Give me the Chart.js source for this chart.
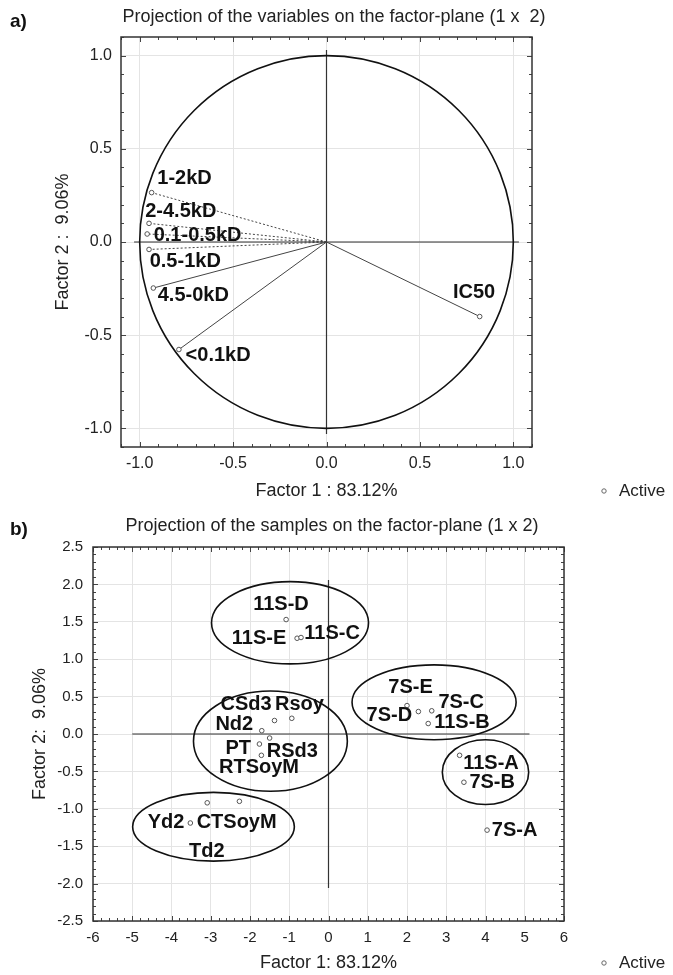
<!DOCTYPE html>
<html>
<head>
<meta charset="utf-8">
<script src="https://cdn.jsdelivr.net/npm/chart.js@4.4.1/dist/chart.umd.min.js"></script>
<style>
  body { margin: 0; background: #fff; width: 673px; height: 975px; overflow: hidden; position: relative; }
  canvas { position: absolute; left: 0; }
  #chartA { top: 0; }
  #chartB { top: 510px; }
</style>
</head>
<body>
<canvas id="chartA" width="673" height="510"></canvas>
<canvas id="chartB" width="673" height="465"></canvas>
<script>
// a) variables (loadings on factor 1 / factor 2)
const varNames = ['1-2kD', '2-4.5kD', '0.1-0.5kD', '0.5-1kD', '4.5-0kD', '<0.1kD', 'IC50'];
const varF1 = [-0.936, -0.95, -0.96, -0.95, -0.927, -0.79, 0.82];
const varF2 = [0.265, 0.10, 0.043, -0.04, -0.247, -0.577, -0.40];
// where each name sits (factor units)
const varLabX = [-0.76, -0.78, -0.69, -0.756, -0.713, -0.58, 0.79];
const varLabY = [0.34, 0.165, 0.036, -0.103, -0.286, -0.607, -0.27];
const varDotted = [true, true, true, true, false, false, false];

// b) samples (scores)
const sampleNames = ['11S-D', '11S-E', '11S-C', '7S-E', '7S-D', '7S-C', '11S-B', '11S-A', '7S-B', '7S-A',
  'CSd3', 'Rsoy', 'Nd2', 'RSd3', 'PT', 'RTSoyM', 'Yd2', 'CTSoyM', 'Td2'];
const sampleF1 = [-1.08, -0.80, -0.70, 2.0, 2.29, 2.63, 2.54, 3.34, 3.45, 4.04,
  -1.376, -0.935, -1.70, -1.50, -1.76, -1.71, -3.52, -2.27, -3.09];
const sampleF2 = [1.53, 1.28, 1.29, 0.38, 0.30, 0.31, 0.14, -0.285, -0.645, -1.285,
  0.18, 0.21, 0.044, -0.054, -0.134, -0.285, -1.19, -0.90, -0.92];
const sampleLabX = [-1.21, -1.77, 0.09, 2.09, 1.55, 3.38, 3.40, 4.14, 4.17, 4.74,
  -2.10, -0.74, -2.40, -0.92, -2.30, -1.77, -4.14, -2.34, -3.10];
const sampleLabY = [1.73, 1.28, 1.35, 0.62, 0.245, 0.42, 0.155, -0.40, -0.645, -1.285,
  0.39, 0.39, 0.133, -0.23, -0.196, -0.453, -1.187, -1.187, -1.565];

// hand-drawn groups (centre and half axes, factor units)
const groupCx = [-0.98, 2.69, 4.0, -1.48, -2.93];
const groupCy = [1.487, 0.424, -0.51, -0.096, -1.24];
const groupRx = [2.0, 2.09, 1.10, 1.96, 2.06];
const groupRy = [0.55, 0.5, 0.433, 0.67, 0.46];

const FONT = '"Liberation Sans", Arial, sans-serif';

function tickMarks(ctx, scale, step, major, isX) {
  const a = scale.chart.chartArea;
  const n0 = Math.ceil(scale.min / step - 1e-6), n1 = Math.floor(scale.max / step + 1e-6);
  for (let i = n0; i <= n1; i++) {
    const v = i * step;
    const isMajor = Math.abs(v / major - Math.round(v / major)) < 1e-6;
    const len = isMajor ? 5 : 3;
    const p = Math.round(scale.getPixelForValue(v)) + 0.5;
    ctx.beginPath();
    if (isX) {
      ctx.moveTo(p, a.bottom); ctx.lineTo(p, a.bottom - len);
      ctx.moveTo(p, a.top); ctx.lineTo(p, a.top + len);
    } else {
      ctx.moveTo(a.left, p); ctx.lineTo(a.left + len, p);
      ctx.moveTo(a.right, p); ctx.lineTo(a.right - len, p);
    }
    ctx.stroke();
  }
}

function makePlugin(cfg) {
  return {
    id: 'pca' + cfg.tag,
    beforeDatasetsDraw(chart) {
      const { ctx, scales: { x, y } } = chart;
      ctx.save();
      ctx.strokeStyle = '#333';
      ctx.lineWidth = 1.2;
      // axis cross through the origin
      ctx.beginPath();
      ctx.moveTo(x.getPixelForValue(0), y.getPixelForValue(cfg.vLine[0]));
      ctx.lineTo(x.getPixelForValue(0), y.getPixelForValue(cfg.vLine[1]));
      ctx.moveTo(x.getPixelForValue(cfg.hLine[0]), y.getPixelForValue(0));
      ctx.lineTo(x.getPixelForValue(cfg.hLine[1]), y.getPixelForValue(0));
      ctx.stroke();
      // circle / group ellipses
      ctx.strokeStyle = '#111';
      ctx.lineWidth = 1.6;
      cfg.ellipses.forEach(e => {
        const cx = x.getPixelForValue(e[0]), cy = y.getPixelForValue(e[1]);
        const rx = Math.abs(x.getPixelForValue(e[0] + e[2]) - cx);
        const ry = Math.abs(y.getPixelForValue(e[1] + e[3]) - cy);
        ctx.beginPath();
        ctx.ellipse(cx, cy, rx, ry, 0, 0, Math.PI * 2);
        ctx.stroke();
      });
      ctx.restore();
    },
    afterDatasetsDraw(chart) {
      const { ctx, scales: { x, y } } = chart;
      ctx.save();
      ctx.font = 'bold 20px ' + FONT;
      ctx.fillStyle = '#111';
      ctx.textAlign = 'center';
      ctx.textBaseline = 'middle';
      cfg.names.forEach((n, i) => {
        ctx.fillText(n, x.getPixelForValue(cfg.labX[i]), y.getPixelForValue(cfg.labY[i]));
      });
      ctx.restore();
    },
    afterDraw(chart) {
      const { ctx, chartArea: a, scales: { x, y } } = chart;
      ctx.save();
      ctx.strokeStyle = '#444';
      ctx.lineWidth = 1;
      tickMarks(ctx, x, cfg.xMinor, cfg.xMajor, true);
      tickMarks(ctx, y, cfg.yMinor, cfg.yMajor, false);
      ctx.strokeStyle = '#333';
      ctx.lineWidth = 1.5;
      ctx.strokeRect(a.left, a.top, a.right - a.left, a.bottom - a.top);
      // title, panel letter, legend
      ctx.fillStyle = '#222';
      ctx.textBaseline = 'middle';
      ctx.textAlign = 'center';
      ctx.font = '18px ' + FONT;
      ctx.fillText(cfg.title, cfg.titleX, cfg.titleY);
      ctx.textAlign = 'left';
      ctx.font = 'bold 19px ' + FONT;
      ctx.fillStyle = '#111';
      ctx.fillText(cfg.tag + ')', 10, cfg.letterY);
      ctx.font = '17px ' + FONT;
      ctx.fillStyle = '#222';
      ctx.fillText('Active', 619, cfg.legendY);
      ctx.beginPath();
      ctx.strokeStyle = '#666';
      ctx.lineWidth = 1;
      ctx.arc(604, cfg.legendY, 2.2, 0, Math.PI * 2);
      ctx.stroke();
      ctx.restore();
    }
  };
}

function axis(min, max, step, fontSize, pad, title, titlePad, fitSize, isX) {
  return {
    type: 'linear',
    min: min, max: max,
    afterFit: s => { if (isX) s.height = fitSize; else s.width = fitSize; },
    grid: { color: '#e4e4e4', lineWidth: 1, drawTicks: false },
    border: { display: false },
    ticks: {
      stepSize: step, includeBounds: false, autoSkip: false, maxRotation: 0,
      padding: pad, color: '#222',
      font: { family: FONT, size: fontSize },
      callback: v => (step < 1 ? v.toFixed(1) : String(v))
    },
    title: {
      display: true, text: title, color: '#222',
      font: { family: FONT, size: 18 },
      padding: titlePad
    }
  };
}

// ---- chart a ----
const vectorSets = varNames.map((n, i) => ({
  type: 'line',
  data: [{ x: 0, y: 0 }, { x: varF1[i], y: varF2[i] }],
  borderColor: '#444',
  borderWidth: 1,
  borderDash: varDotted[i] ? [2, 2] : [],
  pointRadius: [0, 2.3],
  pointBorderWidth: 1,
  pointBorderColor: '#555',
  pointBackgroundColor: '#fff'
}));

new Chart(document.getElementById('chartA'), {
  type: 'scatter',
  data: { datasets: vectorSets },
  options: {
    responsive: false, animation: false, devicePixelRatio: 1,
    layout: { padding: { top: 37, right: 141, left: 0, bottom: 0 } },
    plugins: { legend: { display: false }, tooltip: { enabled: false } },
    scales: {
      x: axis(-1.1, 1.1, 0.5, 16, 7, 'Factor 1 : 83.12%', { top: 0, bottom: 8 }, 63, true),
      y: axis(-1.1, 1.1, 0.5, 16, 9, 'Factor 2 :  9.06%', { top: 52, bottom: 0 }, 121, false)
    }
  },
  plugins: [makePlugin({
    tag: 'a', names: varNames, labX: varLabX, labY: varLabY,
    vLine: [-1.03, 1.03], hLine: [-1.03, 1.03],
    ellipses: [[0, 0, 1, 1]],
    xMinor: 0.1, xMajor: 0.5, yMinor: 0.1, yMajor: 0.5,
    title: 'Projection of the variables on the factor-plane (1 x  2)', titleX: 334, titleY: 17,
    letterY: 22, legendY: 491
  })]
});

// ---- chart b ----
new Chart(document.getElementById('chartB'), {
  type: 'scatter',
  data: {
    datasets: [{
      data: sampleF1.map((v, i) => ({ x: v, y: sampleF2[i] })),
      pointRadius: 2.3,
      pointBorderWidth: 1,
      pointBorderColor: '#555',
      pointBackgroundColor: '#fff'
    }]
  },
  options: {
    responsive: false, animation: false, devicePixelRatio: 1,
    layout: { padding: { top: 37, right: 109, left: 0, bottom: 0 } },
    plugins: { legend: { display: false }, tooltip: { enabled: false } },
    scales: {
      x: axis(-6, 6, 1, 15, 8, 'Factor 1: 83.12%', { top: 0, bottom: 1 }, 54, true),
      y: axis(-2.5, 2.5, 0.5, 15, 10, 'Factor 2:  9.06%', { top: 29, bottom: 0 }, 93, false)
    }
  },
  plugins: [makePlugin({
    tag: 'b', names: sampleNames, labX: sampleLabX, labY: sampleLabY,
    vLine: [-2.06, 2.06], hLine: [-5, 5.12],
    ellipses: groupCx.map((c, i) => [c, groupCy[i], groupRx[i], groupRy[i]]),
    xMinor: 0.2, xMajor: 1, yMinor: 0.1, yMajor: 0.5,
    title: 'Projection of the samples on the factor-plane (1 x 2)', titleX: 332, titleY: 16,
    letterY: 20, legendY: 453
  })]
});
</script>
</body>
</html>
